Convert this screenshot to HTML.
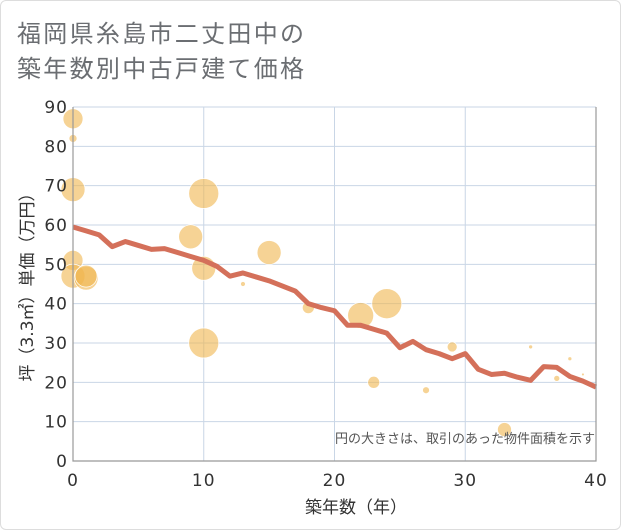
<!DOCTYPE html>
<html><head><meta charset="utf-8"><style>
body{margin:0;background:#fff;}
#wrap{position:relative;width:619px;height:528px;border:1px solid #ddd;border-radius:6px;overflow:hidden;}
svg text{font-family:"DejaVu Sans","Noto Sans CJK JP",sans-serif;}
</style></head><body>
<div id="wrap">
<svg id="chart" width="621" height="530" style="position:absolute;left:-1px;top:-1px">
<text x="17" y="42" font-size="24" letter-spacing="2.3" fill="#6b6e72">福岡県糸島市二丈田中の</text>
<text x="17" y="77" font-size="24" letter-spacing="2.3" fill="#6b6e72">築年数別中古戸建て価格</text>
<g id="grid"></g><g id="bubbles"></g><g id="line"></g><g id="axes"></g>
<text x="595" y="443" font-size="13" fill="#555" text-anchor="end">円の大きさは、取引のあった物件面積を示す</text>
<text x="356" y="513" font-size="17" fill="#333" text-anchor="middle">築年数（年）</text>
<text transform="translate(33,283) rotate(-90)" font-size="17" fill="#333" text-anchor="middle">坪（3.3㎡）単価（万円）</text>
</svg></div>
<script>
const xTicks=[0,10,20,30,40];
const yTicks=[0,10,20,30,40,50,60,70,80,90];
const lineYears=[0,1,2,3,4,5,6,7,8,9,10,11,12,13,14,15,16,17,18,19,20,21,22,23,24,25,26,27,28,29,30,31,32,33,34,35,36,37,38,39,40];
const lineValues=[59.5,58.5,57.5,54.5,55.8,54.8,53.8,54,53,52,51,49.5,47,47.8,46.8,45.8,44.5,43.2,40,39,38.2,34.5,34.5,33.5,32.5,28.8,30.4,28.3,27.3,26,27.3,23.3,22,22.3,21.3,20.5,24,23.8,21.5,20.3,18.8];
const bubbleX=[0,0,0,0,0,1,1,9,10,10,10,13,15,18,22,24,23,27,29,33,35,37,38,39];
const bubbleY=[87,82,69,51,47,46.5,47,57,68,49,30,45,53,39,37,40,20,18,29,8,29,21,26,22];
const bubbleArea=[100,16,144,100,144,144,121,144,225,144,225,6,144,36,169,225,36,12,25,49,4,9,4,2];
const X0=73,X1=596,Y0=461,Y1=107;
const sx=v=>X0+(v-0)/40*(X1-X0);
const sy=v=>Y0-(v/90)*(Y0-Y1);
const NS="http://www.w3.org/2000/svg";
function mk(tag,attrs,parent){const e=document.createElementNS(NS,tag);for(const k in attrs)e.setAttribute(k,attrs[k]);parent.appendChild(e);return e;}
const grid=document.getElementById('grid'),axes=document.getElementById('axes');
yTicks.forEach(t=>{
 const l=mk('line',{x1:X0,x2:X1,y1:sy(t),y2:sy(t),stroke:'#c9d6e6','stroke-width':1},grid);
 
 
 const tx=mk('text',{x:X0-5,y:sy(t)+6,'font-size':17,'letter-spacing':1,fill:'#333','text-anchor':'end'},axes);
 tx.textContent=t;
 
 
});
xTicks.forEach(t=>{
 const l=mk('line',{x1:sx(t),x2:sx(t),y1:Y1,y2:Y0,stroke:'#c9d6e6','stroke-width':1},grid);
 
 
 const tx=mk('text',{x:sx(t),y:Y0+25,'font-size':17,'letter-spacing':1,fill:'#333','text-anchor':'middle'},axes);
 tx.textContent=t;
 
 
});
const ax=mk('path',{d:`M${X0},${Y1}V${Y0}H${X1}V${Y1}`,fill:'none',stroke:'#999','stroke-width':1.2},axes);


const bg=document.getElementById('bubbles');
bubbleX.forEach((x,i)=>{
 const c=mk('circle',{cx:sx(x),cy:sy(bubbleY[i]),r:Math.sqrt(bubbleArea[i]),fill:'#f0b54f','fill-opacity':0.6,stroke:'#fff','stroke-width':0.7},bg);
 
 
});
const pts=lineYears.map((x,i)=>sx(x)+','+sy(lineValues[i])).join(' ');
const pl=mk('polyline',{points:pts,fill:'none',stroke:'#d4705a','stroke-width':5,'stroke-linejoin':'round'},document.getElementById('line'));


</script>
</body></html>
